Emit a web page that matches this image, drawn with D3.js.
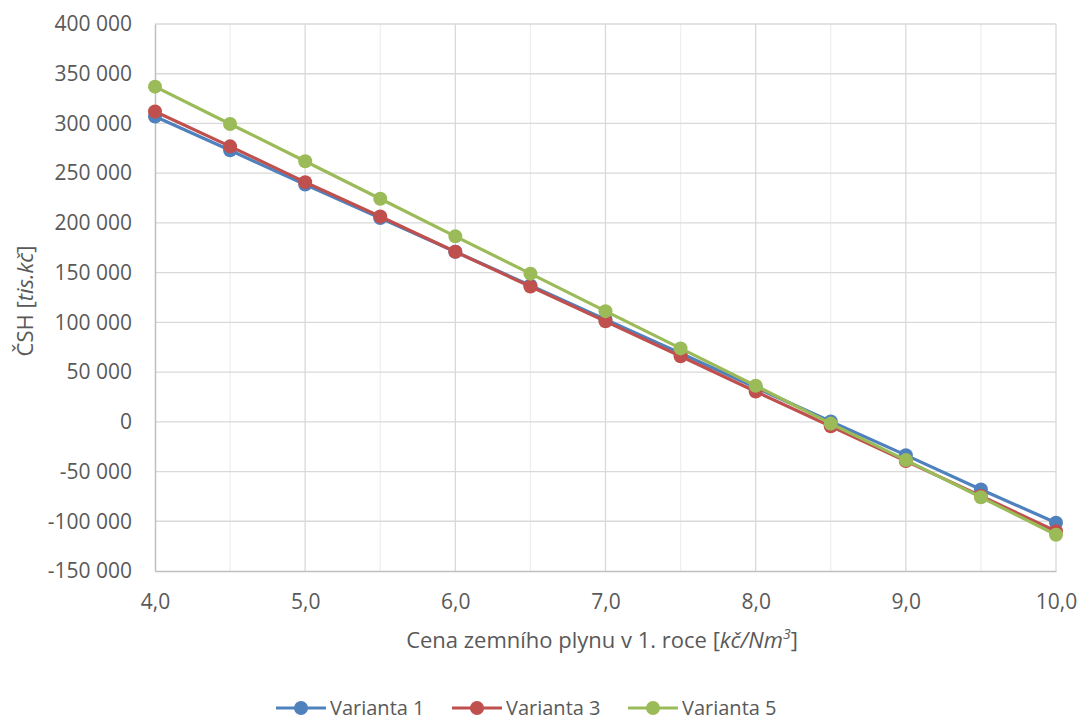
<!DOCTYPE html>
<html>
<head>
<meta charset="utf-8">
<script src="https://cdn.jsdelivr.net/npm/d3@7"></script>
<style>
  html, body { margin: 0; padding: 0; background: #fff; }
  svg { display: block; font-family: "Open Sans", Lato, sans-serif; }
</style>
</head>
<body>
<svg id="chart" width="1080" height="722"></svg>
<script>
// Gas price in the first year [kč/Nm3]
const prices = [4.0, 4.5, 5.0, 5.5, 6.0, 6.5, 7.0, 7.5, 8.0, 8.5, 9.0, 9.5, 10.0];

// ČSH [tis.kč] per variant
const varianta1 = [307000, 273000, 238500, 205000, 171000, 137000, 103000, 69000, 34500, 300, -33500, -68000, -101500];
const varianta3 = [312000, 277000, 241000, 206500, 171000, 136000, 101000, 66000, 30500, -4500, -39500, -74500, -110000];
const varianta5 = [337000, 299500, 262000, 224300, 186500, 149000, 111300, 73800, 36300, -1800, -38500, -75800, -113500];

const seriesNames = ["Varianta 1", "Varianta 3", "Varianta 5"];
const seriesColors = ["#4F81BD", "#C0504D", "#9BBB59"];
const seriesValues = [varianta1, varianta3, varianta5];

const yTicks = [-150000, -100000, -50000, 0, 50000, 100000, 150000, 200000, 250000, 300000, 350000, 400000];
const xTicks = [4, 5, 6, 7, 8, 9, 10];
const xMinorTicks = [4.5, 5.5, 6.5, 7.5, 8.5, 9.5];

const locale = d3.formatLocale({ decimal: ",", thousands: " ", grouping: [3], currency: ["", ""], minus: "-" });
const fmtY = locale.format(",.0f");
const fmtX = locale.format(".1f");

const svg = d3.select("#chart");
const plotLeft = 155, plotRight = 1056, plotTop = 24, plotBottom = 571;

const x = d3.scaleLinear().domain([4, 10]).range([plotLeft, plotRight]);
const y = d3.scaleLinear().domain([-150000, 400000]).range([plotBottom, plotTop]);

const textColor = "#595959";
const tickFont = "21px";
const titleFont = "22px";
const legendFont = "20px";

// minor vertical gridlines
svg.append("g").selectAll("line").data(xMinorTicks).join("line")
  .attr("x1", d => x(d)).attr("x2", d => x(d))
  .attr("y1", plotTop).attr("y2", plotBottom)
  .attr("stroke", "#EFEFEF").attr("stroke-width", 1.3);

// major vertical gridlines
svg.append("g").selectAll("line").data(xTicks.filter(d => d > 4)).join("line")
  .attr("x1", d => x(d)).attr("x2", d => x(d))
  .attr("y1", plotTop).attr("y2", plotBottom)
  .attr("stroke", "#D9D9D9").attr("stroke-width", 1.3);

// horizontal gridlines
svg.append("g").selectAll("line").data(yTicks.filter(d => d > -150000)).join("line")
  .attr("x1", plotLeft).attr("x2", plotRight)
  .attr("y1", d => y(d)).attr("y2", d => y(d))
  .attr("stroke", "#D9D9D9").attr("stroke-width", 1.3);

// y axis
const yAxis = svg.append("g")
  .attr("transform", `translate(${plotLeft},0)`)
  .call(d3.axisLeft(y).tickValues(yTicks).tickFormat(fmtY).tickSize(0).tickPadding(23));
yAxis.select(".domain").attr("stroke", "#BFBFBF").attr("stroke-width", 1.5);
yAxis.selectAll("text").attr("fill", textColor).style("font-size", tickFont)
  .style("font-family", "'Open Sans', Lato, sans-serif");

// x axis
const xAxis = svg.append("g")
  .attr("transform", `translate(0,${plotBottom})`)
  .call(d3.axisBottom(x).tickValues(xTicks).tickFormat(fmtX).tickSize(0).tickPadding(0));
xAxis.select(".domain").attr("stroke", "#BFBFBF").attr("stroke-width", 1.5);
xAxis.selectAll("text").attr("fill", textColor).style("font-size", tickFont)
  .style("font-family", "'Open Sans', Lato, sans-serif")
  .attr("dy", null).attr("y", 38);

// series lines and markers
const line = d3.line().x((d, i) => x(prices[i])).y(d => y(d));
seriesValues.forEach((vals, s) => {
  const g = svg.append("g");
  g.append("path").datum(vals)
    .attr("d", line)
    .attr("fill", "none")
    .attr("stroke", seriesColors[s])
    .attr("stroke-width", 3.2)
    .attr("stroke-linejoin", "round");
  g.selectAll("circle").data(vals).join("circle")
    .attr("cx", (d, i) => x(prices[i]))
    .attr("cy", d => y(d))
    .attr("r", 7)
    .attr("fill", seriesColors[s]);
});

// axis titles
const xTitle = svg.append("text")
  .attr("x", 602).attr("y", 648)
  .attr("text-anchor", "middle")
  .attr("fill", textColor).style("font-size", titleFont);
xTitle.append("tspan").text("Cena zemního plynu v 1. roce [");
xTitle.append("tspan").attr("font-style", "italic").text("kč/Nm");
xTitle.append("tspan").attr("font-style", "italic").attr("dy", -9).style("font-size", "14px").text("3");
xTitle.append("tspan").attr("dy", 9).text("]");

const yTitle = svg.append("text")
  .attr("transform", `translate(33,301) rotate(-90)`)
  .attr("text-anchor", "middle")
  .attr("fill", textColor).style("font-size", titleFont);
yTitle.append("tspan").text("ČSH [");
yTitle.append("tspan").attr("font-style", "italic").text("tis.kč");
yTitle.append("tspan").text("]");

// legend
const legendX = [276, 452, 628];
const legend = svg.append("g");
seriesNames.forEach((name, s) => {
  const lg = legend.append("g").attr("transform", `translate(${legendX[s]},708)`);
  lg.append("line").attr("x1", 0).attr("x2", 50).attr("y1", 0).attr("y2", 0)
    .attr("stroke", seriesColors[s]).attr("stroke-width", 3.2);
  lg.append("circle").attr("cx", 25).attr("cy", 0).attr("r", 7).attr("fill", seriesColors[s]);
  lg.append("text").attr("x", 54).attr("y", 7)
    .attr("fill", textColor).style("font-size", legendFont).text(name);
});
</script>
</body>
</html>
